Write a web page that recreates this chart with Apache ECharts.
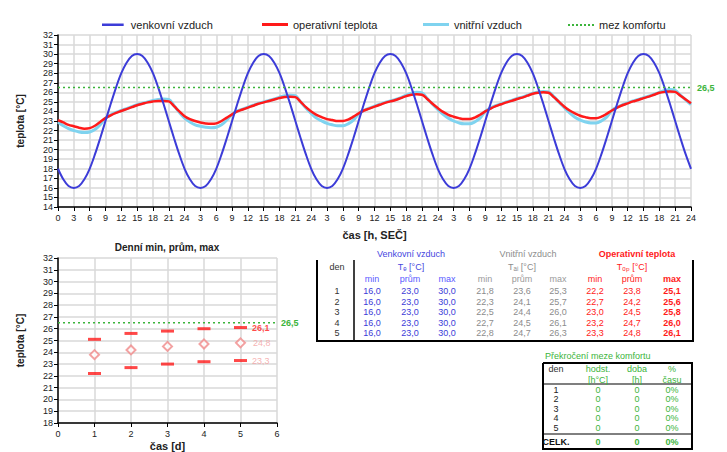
<!DOCTYPE html>
<html><head><meta charset="utf-8">
<script src="https://cdn.jsdelivr.net/npm/echarts@6/dist/echarts.min.js"></script>
<style>html,body{margin:0;padding:0;background:#fff}#c{width:727px;height:452px}</style>
</head><body><div id="c"></div>
<script>
// ---- main chart data (hourly, 0..120 h) ----
const outdoor = [18.0,16.9,16.2,16.0,16.2,16.9,18.0,19.5,21.2,23.0,24.8,26.5,28.0,29.1,29.8,30.0,29.8,29.1,28.0,26.5,24.8,23.0,21.2,19.5,
18.0,16.9,16.2,16.0,16.2,16.9,18.0,19.5,21.2,23.0,24.8,26.5,28.0,29.1,29.8,30.0,29.8,29.1,28.0,26.5,24.8,23.0,21.2,19.5,
18.0,16.9,16.2,16.0,16.2,16.9,18.0,19.5,21.2,23.0,24.8,26.5,28.0,29.1,29.8,30.0,29.8,29.1,28.0,26.5,24.8,23.0,21.2,19.5,
18.0,16.9,16.2,16.0,16.2,16.9,18.0,19.5,21.2,23.0,24.8,26.5,28.0,29.1,29.8,30.0,29.8,29.1,28.0,26.5,24.8,23.0,21.2,19.5,
18.0,16.9,16.2,16.0,16.2,16.9,18.0,19.5,21.2,23.0,24.8,26.5,28.0,29.1,29.8,30.0,29.8,29.1,28.0,26.5,24.8,23.0,21.2,19.5,18.0];
const operative = [23.1,22.85,22.6,22.45,22.3,22.2,22.25,22.5,22.9,23.3,23.6,23.85,24.05,24.25,24.45,24.65,24.8,24.95,25.05,25.1,25.1,25.05,24.55,24.0,
23.5,23.2,23.0,22.85,22.75,22.7,22.75,23.0,23.35,23.7,24.0,24.2,24.4,24.6,24.8,24.95,25.1,25.25,25.4,25.5,25.55,25.5,25.0,24.45,
24.0,23.65,23.4,23.2,23.1,23.0,23.0,23.15,23.45,23.8,24.1,24.3,24.5,24.7,24.9,25.05,25.2,25.4,25.6,25.75,25.8,25.75,25.3,24.8,
24.35,23.95,23.65,23.45,23.3,23.2,23.2,23.35,23.65,24.0,24.3,24.55,24.75,24.95,25.1,25.3,25.45,25.65,25.85,25.95,26.0,25.95,25.5,25.0,
24.5,24.1,23.8,23.55,23.4,23.3,23.3,23.45,23.75,24.1,24.4,24.65,24.85,25.05,25.2,25.4,25.55,25.75,25.95,26.05,26.1,26.05,25.65,25.25,24.85];
const inner = [22.9,22.5,22.2,22.0,21.85,21.8,21.85,22.1,22.6,23.3,23.65,23.9,24.1,24.3,24.5,24.7,24.85,25.0,25.15,25.25,25.3,25.25,24.6,23.9,
23.3,22.9,22.6,22.45,22.35,22.3,22.35,22.6,23.1,23.7,24.05,24.25,24.45,24.65,24.85,25.0,25.15,25.3,25.5,25.65,25.7,25.65,25.0,24.35,
23.8,23.3,23.0,22.75,22.6,22.5,22.5,22.7,23.1,23.75,24.1,24.35,24.55,24.75,24.95,25.1,25.25,25.45,25.7,25.9,26.0,25.95,25.35,24.75,
24.2,23.7,23.3,23.0,22.8,22.7,22.7,22.9,23.3,24.0,24.35,24.6,24.8,25.0,25.15,25.35,25.5,25.7,25.9,26.05,26.1,26.05,25.55,24.95,
24.4,23.85,23.4,23.1,22.9,22.8,22.8,23.0,23.4,24.1,24.45,24.7,24.9,25.1,25.25,25.45,25.6,25.8,26.0,26.2,26.3,26.2,25.7,25.2,24.7];
const comfortLimit = 26.5;
const seriesNames = ['venkovní vzduch','operativní teplota','vnitřní vzduch','mez komfortu'];

// ---- daily chart data ----
const days = [1,2,3,4,5];
const opMin = [22.2,22.7,23.0,23.2,23.3];
const opMean = [23.8,24.2,24.5,24.7,24.8];
const opMax = [25.1,25.6,25.8,26.0,26.1];

// ---- table data ----
const outMin = [16.0,16.0,16.0,16.0,16.0];
const outMean = [23.0,23.0,23.0,23.0,23.0];
const outMax = [30.0,30.0,30.0,30.0,30.0];
const inMin = [21.8,22.3,22.5,22.7,22.8];
const inMean = [23.6,24.1,24.4,24.5,24.7];
const inMax = [25.3,25.7,26.0,26.1,26.3];
const excDegH = ['0','0','0','0','0'];
const excTime = ['0','0','0','0','0'];
const excPct = ['0%','0%','0%','0%','0%'];
const excTotal = ['0','0','0%'];

const F = '"Liberation Sans", Arial, sans-serif';
const BLUE = '#3c3cd8', RED = '#ff1a1a', CYAN = '#7fd3ef', GREEN = '#3cb43c';
const fmt = v => v.toFixed(1).replace('.', ',');
const pair = arr => arr.map((v, i) => [i, v]);

function T(x, y, s, color, size, bold, align) {
  return {type:'text', x:x, y:y, silent:true,
    style:{text:s, fill:color, font:(bold?'bold ':'') + size + 'px ' + F,
      align:align||'center', verticalAlign:'middle', textAlign:align||'center', textVerticalAlign:'middle'}};
}
function L(x1, y1, x2, y2, w, c) {
  return {type:'line', silent:true, shape:{x1:x1,y1:y1,x2:x2,y2:y2}, style:{stroke:c||'#000', lineWidth:w}};
}

const g = [];
// table 1
g.push(T(411, 254, 'Venkovní vzduch', '#4646e0', 9));
g.push(T(528, 254, 'Vnitřní vzduch', '#8c8c8c', 9));
g.push(T(637, 254, 'Operativní teplota', RED, 9, true));
g.push(L(317, 260, 317, 342, 2));
g.push(L(693, 260, 693, 342, 2));
g.push(L(316, 341, 694, 341, 2));
g.push(L(354, 260, 354, 341, 1.5));
g.push(T(337, 267, 'den', '#333', 9));
g.push(T(411, 267, 'Tₑ [°C]', '#4646e0', 9));
g.push(T(522, 267, 'Tₐᵢ [°C]', '#8c8c8c', 9));
g.push(T(632, 267, 'Tₒₚ [°C]', RED, 9));
const cx = [372, 410, 447, 485, 522, 558, 595, 632, 672];
const sub = ['min','prům','max'];
for (let k = 0; k < 3; k++) {
  g.push(T(cx[k], 279, sub[k], '#5a5aff', 9));
  g.push(T(cx[3+k], 279, sub[k], '#9a9a9a', 9));
  g.push(T(cx[6+k], 279, sub[k], RED, 9, k === 2));
}
const rowY = [291, 301.5, 312, 322.5, 333];
days.forEach((d, i) => {
  const y = rowY[i];
  g.push(T(337, y, String(d), '#333', 9));
  [outMin, outMean, outMax].forEach((a, k) => g.push(T(cx[k], y, fmt(a[i]), BLUE, 9)));
  [inMin, inMean, inMax].forEach((a, k) => g.push(T(cx[3+k], y, fmt(a[i]), '#8c8c8c', 9)));
  [opMin, opMean, opMax].forEach((a, k) => g.push(T(cx[6+k], y, fmt(a[i]), RED, 9, k === 2)));
});
// table 2
g.push(T(545, 356, 'Překročení meze komfortu', GREEN, 9, false, 'left'));
g.push(L(543, 363, 693, 363, 2));
g.push(L(543, 363, 543, 450, 2));
g.push(L(692, 363, 692, 450, 2));
g.push(L(542, 449, 693, 449, 2));
g.push(L(543, 384, 692, 384, 1.2));
g.push(L(543, 434, 692, 434, 1));
g.push(T(556, 369, 'den', '#333', 9));
g.push(T(598, 369, 'hodst.', GREEN, 9));
g.push(T(598, 380, '[h°C]', GREEN, 9));
g.push(T(637, 369, 'doba', GREEN, 9));
g.push(T(637, 380, '[h]', GREEN, 9));
g.push(T(672, 369, '%', GREEN, 9));
g.push(T(672, 380, 'času', GREEN, 9));
const rowY2 = [389.5, 399, 408.5, 418, 427.5];
days.forEach((d, i) => {
  g.push(T(556, rowY2[i], String(d), '#222', 9));
  g.push(T(598, rowY2[i], excDegH[i], GREEN, 9));
  g.push(T(637, rowY2[i], excTime[i], GREEN, 9));
  g.push(T(672, rowY2[i], excPct[i], GREEN, 9));
});
g.push(T(556, 442, 'CELK.', '#111', 9, true));
g.push(T(598, 442, excTotal[0], GREEN, 9, true));
g.push(T(637, 442, excTotal[1], GREEN, 9, true));
g.push(T(672, 442, excTotal[2], GREEN, 9, true));
// lower chart title
g.push(T(167, 247, 'Denní min, prům, max', '#222', 10, true));

const axisLbl = {fontFamily:F, fontSize:9, color:'#222'};
const splitL = {show:true, lineStyle:{color:'#d9d9d9', width:1.5}};
const axLine = {show:true, lineStyle:{color:'#000', width:1.5}};
const ticks = {show:true, inside:false, length:4, lineStyle:{color:'#000'}};

const legendPos = [97, 257, 418, 563];
const solidIcon = 'path://M0,0L26,0L26,3L0,3Z';
const dotIcon = 'path://M0,0h2v2h-2zM4,0h2v2h-2zM8,0h2v2h-2zM12,0h2v2h-2zM16,0h2v2h-2zM20,0h2v2h-2zM24,0h2v2h-2z';
const legendIcons = [solidIcon, solidIcon, solidIcon, dotIcon];
const legendH = [2.5, 3, 3, 2];
const legends = seriesNames.map((n, i) => ({
  data:[{name:n, icon:legendIcons[i]}], left:legendPos[i], top:14 + (3 - legendH[i]) / 2,
  itemWidth:26, itemHeight:legendH[i], itemGap:0,
  textStyle:{fontFamily:F, fontSize:11, color:'#222'}, selectedMode:false
}));

const option = {
  animation:false,
  backgroundColor:'#fff',
  legend: legends,
  grid:[
    {left:58, right:36, top:35, bottom:245, containLabel:false},
    {left:58, right:450, top:258, bottom:21, containLabel:false}
  ],
  xAxis:[
    {gridIndex:0, type:'value', min:0, max:120, interval:3,
     axisLine:axLine, axisTick:ticks, splitLine:splitL,
     axisLabel:Object.assign({margin:6, formatter:v => v === 0 ? '0' : (v % 24 === 0 ? '24' : String(v % 24))}, axisLbl),
     name:'čas [h, SEČ]', nameLocation:'middle', nameGap:22,
     nameTextStyle:{fontFamily:F, fontSize:11, fontWeight:'bold', color:'#222'}},
    {gridIndex:1, type:'value', min:0, max:6, interval:1,
     axisLine:axLine, axisTick:ticks, splitLine:splitL,
     axisLabel:Object.assign({margin:6}, axisLbl),
     name:'čas [d]', nameLocation:'middle', nameGap:17,
     nameTextStyle:{fontFamily:F, fontSize:11, fontWeight:'bold', color:'#222'}}
  ],
  yAxis:[
    {gridIndex:0, type:'value', min:14, max:32, interval:1,
     axisLine:axLine, axisTick:ticks, splitLine:splitL,
     axisLabel:Object.assign({margin:5}, axisLbl),
     name:'teplota [°C]', nameLocation:'middle', nameGap:33, nameRotate:90,
     nameTextStyle:{fontFamily:F, fontSize:10, fontWeight:'bold', color:'#222'}},
    {gridIndex:1, type:'value', min:18, max:32, interval:1,
     axisLine:axLine, axisTick:ticks, splitLine:splitL,
     axisLabel:Object.assign({margin:5}, axisLbl),
     name:'teplota [°C]', nameLocation:'middle', nameGap:33, nameRotate:90,
     nameTextStyle:{fontFamily:F, fontSize:10, fontWeight:'bold', color:'#222'}}
  ],
  series:[
    {name:seriesNames[2], type:'line', xAxisIndex:0, yAxisIndex:0, data:pair(inner),
     symbol:'none', smooth:0.35, lineStyle:{color:CYAN, width:3}, itemStyle:{color:CYAN}},
    {name:seriesNames[1], type:'line', xAxisIndex:0, yAxisIndex:0, data:pair(operative),
     symbol:'none', smooth:0.35, lineStyle:{color:RED, width:2.5}, itemStyle:{color:RED}},
    {name:seriesNames[0], type:'line', xAxisIndex:0, yAxisIndex:0, data:pair(outdoor),
     symbol:'none', smooth:0.35, lineStyle:{color:BLUE, width:2}, itemStyle:{color:BLUE}},
    {name:seriesNames[3], type:'line', xAxisIndex:0, yAxisIndex:0, data:[[0, comfortLimit],[120, comfortLimit]],
     symbol:'none', lineStyle:{color:GREEN, width:1.5, type:[2,3]}, itemStyle:{color:GREEN},
     endLabel:{show:true, formatter:'26,5', color:GREEN, fontFamily:F, fontSize:9, fontWeight:'bold', distance:6}},
    {name:'mez2', type:'line', xAxisIndex:1, yAxisIndex:1, data:[[0, comfortLimit],[6, comfortLimit]],
     symbol:'none', lineStyle:{color:GREEN, width:1.5, type:[2,3]},
     endLabel:{show:true, formatter:'26,5', color:GREEN, fontFamily:F, fontSize:9, fontWeight:'bold', distance:4}},
    {name:'max', type:'scatter', xAxisIndex:1, yAxisIndex:1, data:days.map((d,i)=>[d,opMax[i]]),
     symbol:'rect', symbolSize:[13,3], itemStyle:{color:RED},
     label:{show:true, position:'right', distance:5, color:RED, fontFamily:F, fontSize:9, fontWeight:'bold',
       formatter:p => p.dataIndex === 4 ? fmt(p.value[1]) : ''}},
    {name:'min', type:'scatter', xAxisIndex:1, yAxisIndex:1, data:days.map((d,i)=>[d,opMin[i]]),
     symbol:'rect', symbolSize:[13,3], itemStyle:{color:RED},
     label:{show:true, position:'right', distance:5, color:'#f4a0a0', fontFamily:F, fontSize:9,
       formatter:p => p.dataIndex === 4 ? fmt(p.value[1]) : ''}},
    {name:'prům', type:'scatter', xAxisIndex:1, yAxisIndex:1, data:days.map((d,i)=>[d,opMean[i]]),
     symbol:'emptyDiamond', symbolSize:9, itemStyle:{color:'#f08a8a', borderWidth:2},
     label:{show:true, position:'right', distance:7, color:'#f4a0a0', fontFamily:F, fontSize:9,
       formatter:p => p.dataIndex === 4 ? fmt(p.value[1]) : ''}}
  ],
  graphic: g
};
const chart = echarts.init(document.getElementById('c'), null, {renderer:'svg'});
chart.setOption(option);
</script></body></html>
